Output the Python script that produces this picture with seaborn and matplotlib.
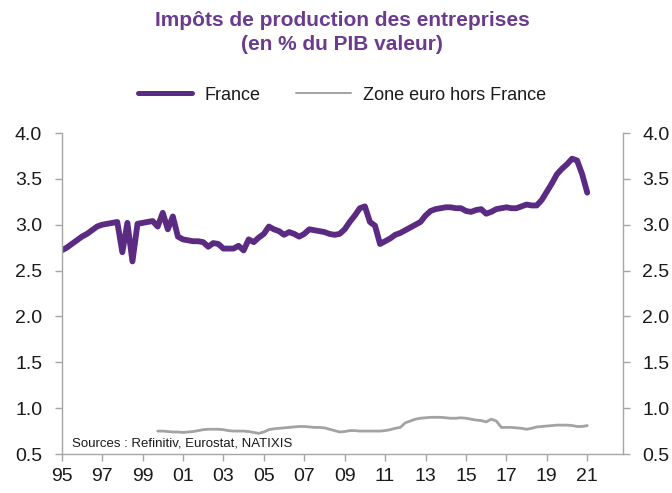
import pandas as pd
import numpy as np
import matplotlib
matplotlib.use("Agg")
import matplotlib.pyplot as plt
import seaborn as sns

# quarterly values, % of GDP
france_start = "1995Q1"
france = [
    2.72, 2.75, 2.79, 2.83,   # 1995
    2.87, 2.90, 2.94, 2.98,   # 1996
    3.00, 3.01, 3.02, 3.03,   # 1997
    2.70, 3.02, 2.60, 3.01,   # 1998
    3.02, 3.03, 3.04, 2.98,   # 1999
    3.13, 2.95, 3.09, 2.87,   # 2000
    2.84, 2.83, 2.82, 2.82,   # 2001
    2.81, 2.76, 2.80, 2.79,   # 2002
    2.74, 2.74, 2.74, 2.77,   # 2003
    2.72, 2.84, 2.81, 2.86,   # 2004
    2.90, 2.98, 2.95, 2.93,   # 2005
    2.89, 2.92, 2.90, 2.87,   # 2006
    2.90, 2.95, 2.94, 2.93,   # 2007
    2.92, 2.90, 2.89, 2.90,   # 2008
    2.95, 3.03, 3.10, 3.18,   # 2009
    3.20, 3.03, 2.99, 2.79,   # 2010
    2.82, 2.85, 2.89, 2.91,   # 2011
    2.94, 2.97, 3.00, 3.03,   # 2012
    3.10, 3.15, 3.17, 3.18,   # 2013
    3.19, 3.19, 3.18, 3.18,   # 2014
    3.15, 3.14, 3.16, 3.17,   # 2015
    3.12, 3.14, 3.17, 3.18,   # 2016
    3.19, 3.18, 3.18, 3.20,   # 2017
    3.22, 3.21, 3.21, 3.27,   # 2018
    3.36, 3.45, 3.55, 3.61,   # 2019
    3.66, 3.72, 3.70, 3.55,   # 2020
    3.35,                     # 2021
]

zone_start = "1999Q4"
zone_euro = [
    0.75,                        # 1999
    0.75, 0.745, 0.74, 0.74,     # 2000
    0.735, 0.74, 0.745, 0.755,   # 2001
    0.765, 0.77, 0.77, 0.77,     # 2002
    0.765, 0.755, 0.75, 0.75,    # 2003
    0.75, 0.745, 0.735, 0.725,   # 2004
    0.74, 0.765, 0.775, 0.78,    # 2005
    0.785, 0.79, 0.795, 0.80,    # 2006
    0.80, 0.795, 0.79, 0.79,     # 2007
    0.785, 0.77, 0.755, 0.74,    # 2008
    0.745, 0.755, 0.755, 0.75,   # 2009
    0.75, 0.75, 0.75, 0.75,      # 2010
    0.755, 0.765, 0.78, 0.79,    # 2011
    0.84, 0.86, 0.88, 0.89,      # 2012
    0.895, 0.90, 0.90, 0.90,     # 2013
    0.895, 0.89, 0.89, 0.895,    # 2014
    0.89, 0.88, 0.87, 0.865,     # 2015
    0.85, 0.88, 0.86, 0.79,      # 2016
    0.79, 0.79, 0.785, 0.78,     # 2017
    0.77, 0.78, 0.795, 0.80,     # 2018
    0.805, 0.81, 0.815, 0.815,   # 2019
    0.815, 0.81, 0.80, 0.80,     # 2020
    0.81,                        # 2021
]

xtick_years = list(range(1995, 2022, 2))
xtick_labels = [f"{y % 100:02d}" for y in xtick_years]
ytick_values = [0.5, 1.0, 1.5, 2.0, 2.5, 3.0, 3.5, 4.0]

PURPLE = "#5b2a83"
TITLE_PURPLE = "#6b3b8e"
GREY = "#a3a3a3"
AXIS_GREY = "#a6a6a6"
TEXT = "#1a1a1a"


def quarterly_frame(start, values):
    p = pd.period_range(start, periods=len(values), freq="Q")
    return pd.DataFrame({"year": p.year + (p.quarter - 1) / 4, "value": values})


df_fr = quarterly_frame(france_start, france)
df_ze = quarterly_frame(zone_start, zone_euro)

sns.set_theme(style="white")
plt.rcParams["font.family"] = ["Liberation Sans", "DejaVu Sans"]

fig = plt.figure(figsize=(6.72, 4.93), dpi=100)
ax = fig.add_axes([0.0918, 0.0791, 0.8353, 0.6511])

sns.lineplot(data=df_fr, x="year", y="value", ax=ax, color=PURPLE,
             linewidth=4.2, label="France", solid_capstyle="round")
sns.lineplot(data=df_ze, x="year", y="value", ax=ax, color=GREY,
             linewidth=2.0, label="Zone euro hors France")

ax.set_xlim(1995, 2022.77)
ax.set_ylim(0.5, 4.0)
ax.set_xticks(xtick_years)
ax.set_xticklabels(xtick_labels)
ax.set_yticks(ytick_values)
ax.set_yticklabels([f"{v:.1f}" for v in ytick_values])
ax.set_xlabel("")
ax.set_ylabel("")

for side in ["left", "right", "bottom"]:
    ax.spines[side].set_visible(True)
    ax.spines[side].set_color(AXIS_GREY)
    ax.spines[side].set_linewidth(1.0)
ax.spines["top"].set_visible(False)

ax.tick_params(axis="y", which="both", left=True, right=True, labelleft=True,
               labelright=True, direction="out", length=5, width=1,
               color=AXIS_GREY, labelsize=14, labelcolor=TEXT, pad=9)
ax.tick_params(axis="x", bottom=True, direction="out", length=5, width=1,
               color=AXIS_GREY, labelsize=14, labelcolor=TEXT, pad=5)

ax.text(0.018, 0.034, "Sources : Refinitiv, Eurostat, NATIXIS",
        transform=ax.transAxes, fontsize=9.5, color=TEXT, va="center", ha="left")

handles, labels = ax.get_legend_handles_labels()
ax.get_legend().remove()
leg = fig.legend(handles, labels, loc="center", bbox_to_anchor=(342 / 672, 1 - 95 / 493),
                 ncol=2, frameon=False, fontsize=13, handlelength=3.0,
                 handletextpad=0.7, columnspacing=2.0, labelcolor=TEXT)
leg.get_lines()[0].set_linewidth(3.6)
leg.get_lines()[1].set_linewidth(1.4)

fig.text(342 / 672, 1 - 20 / 493, "Impôts de production des entreprises",
         ha="center", va="center", fontsize=15, fontweight="bold", color=TITLE_PURPLE)
fig.text(342 / 672, 1 - 45 / 493, "(en % du PIB valeur)",
         ha="center", va="center", fontsize=15, fontweight="bold", color=TITLE_PURPLE)

fig.savefig("out.png", dpi=100)
plt.close(fig)
